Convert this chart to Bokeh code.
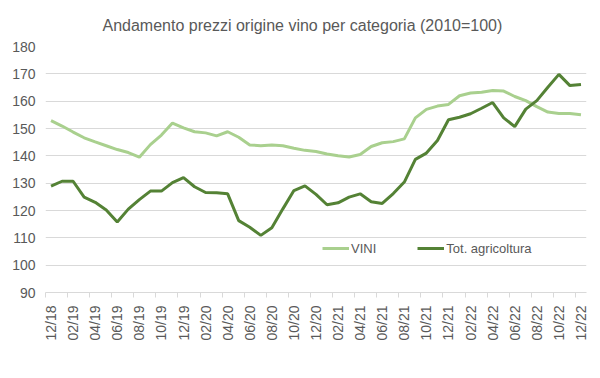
import math
from bokeh.plotting import figure
from bokeh.models import FixedTicker, Legend, LegendItem, Range1d, ColumnDataSource
from bokeh.embed import file_html
from bokeh.resources import INLINE

months = ["12/18", "01/19", "02/19", "03/19", "04/19", "05/19", "06/19", "07/19",
          "08/19", "09/19", "10/19", "11/19", "12/19", "01/20", "02/20", "03/20",
          "04/20", "05/20", "06/20", "07/20", "08/20", "09/20", "10/20", "11/20",
          "12/20", "01/21", "02/21", "03/21", "04/21", "05/21", "06/21", "07/21",
          "08/21", "09/21", "10/21", "11/21", "12/21", "01/22", "02/22", "03/22",
          "04/22", "05/22", "06/22", "07/22", "08/22", "09/22", "10/22", "11/22",
          "12/22"]

vini = [152.9, 150.9, 148.7, 146.6, 145.1, 143.7, 142.3, 141.2, 139.5, 144.1,
        147.6, 152.0, 150.2, 148.8, 148.4, 147.3, 148.8, 146.8, 144.0, 143.7,
        144.0, 143.7, 142.8, 142.0, 141.6, 140.7, 140.0, 139.6, 140.5, 143.4,
        144.8, 145.2, 146.2, 153.9, 157.0, 158.2, 158.8, 162.0, 163.0, 163.3,
        163.9, 163.7, 161.7, 160.2, 158.0, 156.0, 155.5, 155.5, 155.0]

tot_agricoltura = [128.9, 130.7, 130.7, 124.9, 123.0, 120.2, 115.8, 120.5, 124.0, 127.1,
                   127.1, 130.2, 132.0, 128.7, 126.6, 126.5, 126.1, 116.3, 113.9, 110.9,
                   113.7, 120.6, 127.3, 129.0, 125.9, 122.1, 122.8, 124.9, 126.1, 123.2,
                   122.6, 126.2, 130.4, 138.7, 141.0, 145.6, 153.2, 154.1, 155.4, 157.4,
                   159.5, 153.9, 150.7, 157.1, 160.2, 165.1, 169.8, 165.7, 166.1]

y_ticks = [90, 100, 110, 120, 130, 140, 150, 160, 170, 180]
series_names = ["VINI", "Tot. agricoltura"]

TEXT = "#595959"
GRID = "#D9D9D9"
FONT = "Liberation Sans"

idx = list(range(len(months)))
src = ColumnDataSource(dict(x=idx, vini=vini, tot=tot_agricoltura, m=months))

p = figure(width=600, height=378, output_backend="svg", toolbar_location=None,
           x_range=Range1d(-0.5, len(months) - 0.5), y_range=Range1d(90, 180),
           min_border_left=45, min_border_right=14, min_border_top=46, min_border_bottom=86,
           title="Andamento prezzi origine vino per categoria (2010=100)")
p.outline_line_color = None
p.background_fill_color = "white"

p.title.text_font = FONT
p.title.text_font_size = "16px"
p.title.text_font_style = "normal"
p.title.text_color = TEXT
p.title.align = "left"
p.title.offset = 57
p.title.standoff = 25

l1 = p.line("x", "vini", source=src, line_color="#A9D08E", line_width=3)
l2 = p.line("x", "tot", source=src, line_color="#548235", line_width=3)

even = [i for i in idx if i % 2 == 0]
p.xaxis.ticker = FixedTicker(ticks=even, minor_ticks=[i - 0.5 for i in even])
p.xaxis.major_label_overrides = {i: months[i] for i in even}
p.xaxis.major_label_orientation = math.pi / 2
p.xaxis.major_tick_out = 0
p.xaxis.major_tick_in = 0
p.xaxis.minor_tick_out = 5
p.xaxis.minor_tick_in = 0
p.xaxis.minor_tick_line_color = GRID
p.xaxis.axis_line_color = GRID
p.xaxis.major_label_standoff = 8
p.xaxis.major_label_text_font = FONT
p.xaxis.major_label_text_font_size = "14px"
p.xaxis.major_label_text_color = TEXT

p.yaxis.ticker = FixedTicker(ticks=y_ticks)
p.yaxis.axis_line_color = None
p.yaxis.major_tick_line_color = None
p.yaxis.minor_tick_line_color = None
p.yaxis.major_tick_out = 0
p.yaxis.major_label_standoff = 10
p.yaxis.major_label_text_font = FONT
p.yaxis.major_label_text_font_size = "14px"
p.yaxis.major_label_text_color = TEXT

p.xgrid.grid_line_color = None
p.ygrid.grid_line_color = GRID
p.ygrid.grid_line_width = 1

legend = Legend(items=[LegendItem(label=series_names[0], renderers=[l1]),
                       LegendItem(label=series_names[1], renderers=[l2])],
                orientation="horizontal", location=(277, 36),
                padding=0, margin=0, spacing=41, glyph_width=27, glyph_height=16,
                label_height=16, label_standoff=2,
                label_text_font=FONT, label_text_font_size="13px",
                label_text_color=TEXT, border_line_color=None,
                background_fill_alpha=0)
p.add_layout(legend, "center")

open("out.html", "w").write(file_html(p, INLINE))
